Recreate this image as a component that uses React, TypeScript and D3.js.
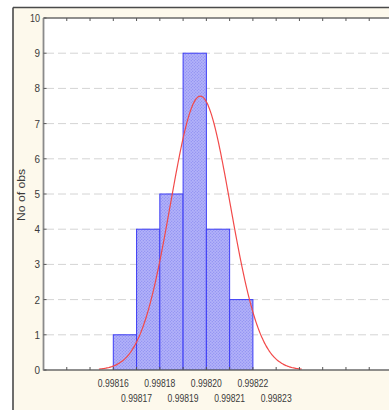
import React from "react";
import * as d3 from "d3";

const binStarts = [0.99816, 0.99817, 0.99818, 0.99819, 0.9982, 0.99821];
const counts = [1, 4, 5, 9, 4, 2];
const binWidth = 0.00001;
const xTicks = [0.99814, 0.99815, 0.99816, 0.99817, 0.99818, 0.99819, 0.9982, 0.99821, 0.99822, 0.99823, 0.99824, 0.99825, 0.99826, 0.99827];
const xLabels = ["0.99816", "0.99817", "0.99818", "0.99819", "0.99820", "0.99821", "0.99822", "0.99823"];
const yTicks = [0, 1, 2, 3, 4, 5, 6, 7, 8, 9, 10];
const fitMean = 0.9981974;
const fitSd = 0.00001282;
const totalN = 25;
const yTitle = "No of obs";

const W = 389;
const H = 410;

export default function App() {
  const x = d3.scaleLinear().domain([0.99813, 0.99828]).range([43.5, 392.5]);
  const y = d3.scaleLinear().domain([0, 10]).range([370, 18]);

  const pdf = (v: number) =>
    (totalN * binWidth) / (fitSd * Math.sqrt(2 * Math.PI)) *
    Math.exp(-0.5 * ((v - fitMean) / fitSd) ** 2);
  const lo = fitMean - 3.4 * fitSd;
  const hi = fitMean + 3.4 * fitSd;
  const pts: [number, number][] = d3.range(0, 201).map((i) => {
    const v = lo + ((hi - lo) * i) / 200;
    return [v, pdf(v)];
  });
  const line = d3
    .line<[number, number]>()
    .x((d) => x(d[0]))
    .y((d) => y(d[1]))
    .curve(d3.curveBasis);

  const font = "'Liberation Sans', Arial, sans-serif";

  return (
    <svg
      width={W}
      height={H}
      style={{ position: "absolute", left: 0, top: 0, display: "block" }}
    >
      <defs>
        <pattern id="hatch" width="3" height="3" patternUnits="userSpaceOnUse">
          <rect width="3" height="3" fill="#aaaaf7" />
          <path d="M0,3 L3,0" stroke="#9090f2" strokeWidth="0.8" />
          <path d="M0,0 L3,3" stroke="#b8b8fa" strokeWidth="0.6" />
        </pattern>
        <clipPath id="plotclip">
          <rect x={43.5} y={18} width={W - 43.5} height={352} />
        </clipPath>
      </defs>
      <rect x={0} y={0} width={W} height={H} fill="#ffffff" />
      <rect x={13} y={7.5} width={W - 13} height={H - 7.5} fill="#fdf9ec" />
      <line x1={13} y1={7.5} x2={W} y2={7.5} stroke="#4a4a4a" strokeWidth={1.6} />
      <line x1={13} y1={7.5} x2={13} y2={H} stroke="#4a4a4a" strokeWidth={1.6} />

      {/* plot area */}
      <rect x={43.5} y={18} width={W - 43.5} height={352} fill="#ffffff" />

      {/* gridlines */}
      {yTicks.slice(1, 10).map((t) => (
        <line
          key={"g" + t}
          x1={46}
          x2={W}
          y1={y(t)}
          y2={y(t)}
          stroke="#d4d4d4"
          strokeWidth={1}
          strokeDasharray="8,4"
        />
      ))}

      {/* bars */}
      <g clipPath="url(#plotclip)">
        {binStarts.map((b, i) => (
          <rect
            key={"b" + i}
            x={x(b)}
            y={y(counts[i])}
            width={x(b + binWidth) - x(b)}
            height={y(0) - y(counts[i])}
            fill="url(#hatch)"
            stroke="#3c3cf5"
            strokeWidth={1}
          />
        ))}
        <path d={line(pts) || ""} fill="none" stroke="#f24a4a" strokeWidth={1.2} />
      </g>

      {/* axes */}
      <line x1={43.5} y1={18} x2={W} y2={18} stroke="#6a6a6a" strokeWidth={1.5} />
      <line x1={43.5} y1={370} x2={W} y2={370} stroke="#6a6a6a" strokeWidth={1.5} />
      <line x1={43.5} y1={18} x2={43.5} y2={370.5} stroke="#8a8a8a" strokeWidth={1.8} />

      {xTicks.map((t, i) => (
        <g key={"xt" + i}>
          <line x1={x(t)} x2={x(t)} y1={370} y2={367} stroke="#555" strokeWidth={1} />
          <line x1={x(t)} x2={x(t)} y1={18} y2={21} stroke="#555" strokeWidth={1} />
        </g>
      ))}

      {xLabels.map((lab, i) => (
        <text
          key={"xl" + i}
          x={x(binStarts[0] + i * binWidth)}
          y={i % 2 === 0 ? 387 : 401.5}
          textAnchor="middle"
          fontFamily={font}
          fontSize={11}
          fill="#3a3a3a"
          textLength={31}
          lengthAdjust="spacingAndGlyphs"
        >
          {lab}
        </text>
      ))}

      {yTicks.map((t) => (
        <g key={"yt" + t}>
          <line x1={43.5} x2={46.5} y1={y(t)} y2={y(t)} stroke="#555" strokeWidth={1} />
          <text
            x={40}
            y={y(t) + 4}
            textAnchor="end"
            fontFamily={font}
            fontSize={11}
            fill="#3a3a3a"
            textLength={t === 10 ? 10 : 5.5}
            lengthAdjust="spacingAndGlyphs"
          >
            {t}
          </text>
        </g>
      ))}

      <text
        transform={`translate(25,195) rotate(-90)`}
        textAnchor="middle"
        fontFamily={font}
        fontSize={11}
        fill="#3a3a3a"
        textLength={52}
        lengthAdjust="spacingAndGlyphs"
      >
        {yTitle}
      </text>
    </svg>
  );
}
